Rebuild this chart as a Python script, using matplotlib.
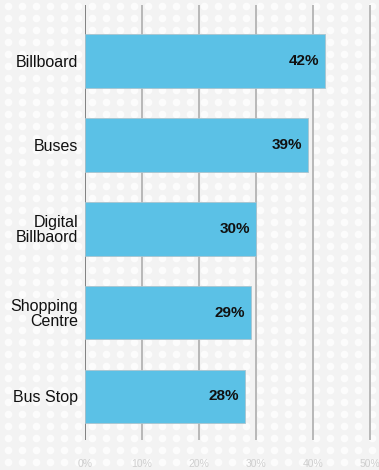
import numpy as np
import matplotlib as mpl
mpl.use("Agg")
import matplotlib.pyplot as plt

mpl.rcParams.update({
    "font.family": ["Liberation Sans", "DejaVu Sans"],
})

categories = ["Billboard", "Buses", "Digital\nBillbaord", "Shopping\nCentre", "Bus Stop"]
values = [42, 39, 30, 29, 28]
ticks = [0, 10, 20, 30, 40, 50]
tick_labels = ["0%", "10%", "20%", "30%", "40%", "50%"]

BG = "#f3f3f3"
BAR = "#5bc1e6"

fig = plt.figure(figsize=(3.79, 4.70), dpi=100)
fig.patch.set_facecolor(BG)

# dotted backdrop
bg = fig.add_axes([0, 0, 1, 1], zorder=0)
bg.set_xlim(0, 379)
bg.set_ylim(470, 0)
bg.axis("off")
gx, gy = np.meshgrid(np.arange(8, 379, 14), np.arange(6, 470, 12))
bg.scatter(gx.ravel(), gy.ravel(), s=30, color="white", alpha=0.8, lw=0)

ax = fig.add_axes([85 / 379, 1 - 440 / 470, 1 - 85 / 379, 435 / 470], zorder=1)
ax.patch.set_alpha(0)
y = np.arange(len(categories))
ax.barh(y, values, height=0.64, color=BAR, edgecolor="#a9c4cf", linewidth=0.6, zorder=3)
ax.set_xlim(0, 51.5)
ax.set_ylim(len(categories) - 0.48, -0.667)

for v in ticks:
    ax.axvline(v, color="#808080" if v == 0 else "#b8b8b8", lw=1.4, zorder=1)

for yi, v in zip(y, values):
    ax.text(v - 1.0, yi, f"{v}%", ha="right", va="center", fontsize=11,
            fontweight="bold", color="#111111", zorder=4)

ax.set_yticks(y)
ax.set_yticklabels(categories, fontsize=11.5, color="#111111", linespacing=1.0)
ax.set_xticks(ticks)
ax.set_xticklabels(tick_labels, fontsize=7.5, color="#cfcfcf")
ax.tick_params(length=0)
ax.tick_params(axis="x", pad=14)
ax.tick_params(axis="y", pad=5)
for s in ax.spines.values():
    s.set_visible(False)

fig.savefig("out.png", dpi=100, facecolor=BG)
